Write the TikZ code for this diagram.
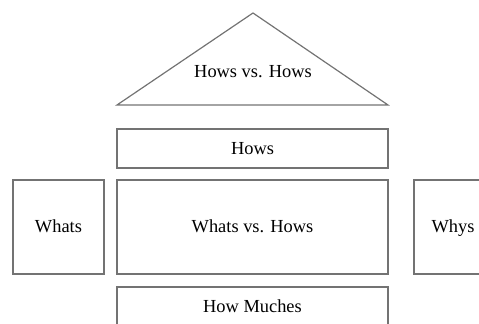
\documentclass[tikz,border=0pt]{standalone}
\usepackage{fontspec}
\setmainfont{Liberation Serif}
\usepackage{tikz}
\usetikzlibrary{positioning, calc}

\tikzset{
  hbox/.style={draw=black!55, line width=0.6pt, fill=white, inner sep=0pt,
    text height=1.6ex, text depth=0.3ex, font=\fontsize{9.2}{11}\selectfont},
}

\begin{document}
\begin{tikzpicture}[x=0.5pt, y=-0.5pt]
\useasboundingbox (0,0) rectangle (479,324);
\clip (0,0) rectangle (479,324);
% roof
\coordinate (apex) at (253,13);
\coordinate (roofL) at (117,105);
\coordinate (roofR) at (388,105);
\draw[draw=black!55, line width=0.6pt] (roofL) -- (apex) -- (roofR) -- cycle;
\node[font=\fontsize{9.2}{11}\selectfont] (roof) at (253,72) {Hows vs. Hows};
% boxes
\node[hbox, minimum width=135.5pt, minimum height=19.5pt] (hows) at (252.5,148.5) {Hows};
\node[hbox, minimum width=135.5pt, minimum height=47pt] (matrix) at (252.5,227) {Whats vs. Hows};
\node[hbox, minimum width=45.5pt, minimum height=47pt] (whats) at (58.5,227) {Whats};
\node[hbox, minimum width=39pt, minimum height=47pt] (whys) at (453,227) {Whys};
\node[hbox, minimum width=135.5pt, minimum height=19.5pt] (muches) at (252.5,306.5) {How Muches};
\end{tikzpicture}
\end{document}
